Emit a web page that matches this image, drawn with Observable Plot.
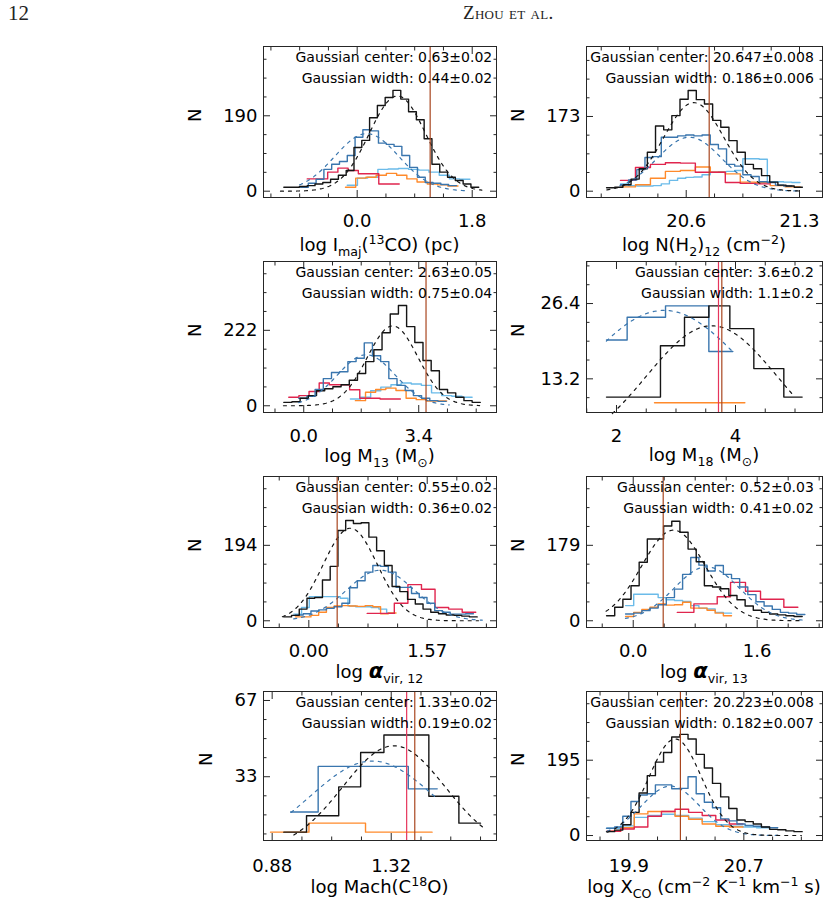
<!DOCTYPE html>
<html>
<head>
<meta charset="utf-8">
<script src="https://cdn.jsdelivr.net/npm/d3@7"></script>
<script src="https://cdn.jsdelivr.net/npm/@observablehq/plot@0.6"></script>
<style>
  body { margin: 0; background: #fff; }
  #page { position: relative; width: 840px; height: 906px; overflow: hidden; font-family: "DejaVu Sans", sans-serif; color: #000; }
  .panel { position: absolute; }
  .title { position: absolute; width: 340px; text-align: center; font: 18px/18px "DejaVu Sans", sans-serif; white-space: nowrap; }
  .title sub, .title sup { font-size: 70%; line-height: 0; }
  .title .al { font-weight: bold; font-style: italic; font-size: 21px; }
  .head { position: absolute; font-family: "Liberation Serif", "DejaVu Serif", serif; color: #222; }
</style>
</head>
<body>
<div id="page"></div>
<script>
// ---- counts per histogram (bin start, bin width, counts) ----
const imajBlack = [10,10,12,14,18,22,30,40,52,110,128,185,216,236,254,232,200,180,132,68,48,35,27,18,10];
const imajBlue  = [10,20,30,55,68,75,90,136,155,152,121,118,113,90,60,35,22,20,17,14];
const imajRed   = [31,31,48,58,52,44,44,18,18];
const imajOrange= [10,33,35,40,45,40,31,23,18,16,13];
const imajLight = [15,33,35,55,56,57,55,53,48,40,31,30];

const nh2Black  = [8,9,15,28,52,90,151,142,175,213,233,212,202,164,148,117,90,62,52,36,21,14,12,9];
const nh2Blue   = [15,26,50,78,80,125,125,128,130,128,130,108,98,62,58,38,34,22,20,14,12];
const nh2Light  = [17,13,12,12,13,17,25,30,32,33,38,44,45,46,48,75,75,74,22,22,21,20];
const nh2Red    = [25,55,62,66,65,44,44,20,18,17];
const nh2Orange = [10,15,30,46,48,56,44,40,21,20,13,10];

const m13Black  = [10,12,22,30,44,50,56,62,75,95,130,165,215,270,295,233,186,133,103,48,38,25,15,10];
const m13Blue   = [22,28,48,80,98,100,130,140,185,147,130,80,60,45,30,22,15,13];
const m13Red    = [25,30,42,67,62,62,47,22,22,20,20];
const m13Light  = [20,25,44,55,62,67,64,60,38,30,28,25];
const m13Orange = [15,40,48,52,45,22,18,14,14];

const m18BlackEdges = [1.832,2.739,3.143,3.552,3.905,4.308,4.812,5.120];
const m18Black      = [10,19,24,26,22,15,10];
const m18BlueEdges  = [1.832,2.179,2.824,3.552,3.955];
const m18Blue       = [20,24,26,18];
const m18OrangeEdges= [2.639,4.157];
const m18Orange     = [9];

const av12Black = [10,14,30,58,60,105,140,232,258,250,252,215,180,142,88,75,55,43,30,22,18,15,14,12,10];
const av12Blue  = [15,18,25,28,32,36,45,85,103,125,142,140,125,86,86,70,60,45,26,22,17,17,18];
const av12Red   = [19,19,45,93,81,34,30,22];
const av12Light = [17,34,62,62,62,62,58,38,36,36,34,30,20];
const av12Orange= [10,10,14,22,34,38,39,38,37,39,36,18,20];

const av13Black = [12,32,51,83,139,194,194,225,236,210,170,140,83,80,76,60,50,35,25,20,16,14,12,10];
const av13Blue  = [16,18,24,30,38,55,75,110,150,132,118,131,110,100,80,62,45,35,27,20,18,15];
const av13RedEdges = [0.568,0.783,1.084,1.256,1.449,1.643,1.944,2.125];
const av13Red   = [20,40,57,91,70,51,32];
const av13Light = [36,63,63,63,55,50,48,46,36,30,28,20,18];
const av13Orange= [10,20,27,32,40,37,38,44,30,30,25,18,12];

const machBlackEdges = [0.923,1.007,1.126,1.207,1.293,1.459,1.570,1.650];
const machBlack      = [8.3,15.6,28.5,43.8,51.6,24.3,12.3];
const machBlueEdges  = [0.948,1.050,1.383,1.490];
const machBlue       = [17.3,37.6,27.6];
const machOrangeEdges= [0.874,1.016,1.225,1.471];
const machOrange     = [8.3,12.3,8.3];

const xcoBlack  = [10,14,28,60,110,155,190,215,255,262,250,210,175,135,100,70,40,36,30,22,16,15,12,10];
const xcoBlue   = [19,22,50,88,105,108,131,131,121,122,152,108,86,72,43,38,30,26,24,22,20];
const xcoRed    = [11,17,22,50,62,68,60,52,40,30];
const xcoOrange = [11,20,56,62,62,50,42,30,24,22];
const xcoLight  = [19,25,47,52,55,52,45,36,28,24,22,20];

// ---- Gaussian fits: [center, width, amplitude, from, to] ----
const imajFit = [0.63, 0.44, 240, -1.2, 1.95],   imajFitBlue = [0.15, 0.5, 145, -0.9, 1.75];
const nh2Fit  = [20.647, 0.186, 205, 20.11, 21.3], nh2FitBlue = [20.62, 0.2, 125, 20.19, 21.3];
const m13Fit  = [2.63, 0.75, 235, -0.6, 5.2],     m13FitBlue = [1.85, 0.85, 150, -0.15, 4.3];
const m18Fit  = [3.6, 1.1, 22.5, 1.93, 4.95],     m18FitBlue = [2.8, 1.4, 25.2, 1.83, 3.96];
const av12Fit = [0.55, 0.36, 238, -0.35, 2.25],   av12FitBlue = [0.95, 0.45, 130, -0.2, 2.3];
const av13Fit = [0.52, 0.41, 215, -0.35, 2.2],    av13FitBlue = [0.95, 0.42, 128, -0.1, 2.2];
const machFit = [1.33, 0.19, 46.8, 0.96, 1.66],   machFitBlue = [1.25, 0.23, 40, 0.95, 1.49];
const xcoFit  = [20.223, 0.182, 250, 19.75, 21.1], xcoFitBlue = [20.19, 0.2, 128, 19.75, 20.95];

// ---- fit annotations ----
const imajText = ["Gaussian center: 0.63±0.02", "Gaussian width: 0.44±0.02"];
const nh2Text  = ["Gaussian center: 20.647±0.008", "Gaussian width: 0.186±0.006"];
const m13Text  = ["Gaussian center: 2.63±0.05", "Gaussian width: 0.75±0.04"];
const m18Text  = ["Gaussian center: 3.6±0.2", "Gaussian width: 1.1±0.2"];
const av12Text = ["Gaussian center: 0.55±0.02", "Gaussian width: 0.36±0.02"];
const av13Text = ["Gaussian center: 0.52±0.03", "Gaussian width: 0.41±0.02"];
const machText = ["Gaussian center: 1.33±0.02", "Gaussian width: 0.19±0.02"];
const xcoText  = ["Gaussian center: 20.223±0.008", "Gaussian width: 0.182±0.007"];

// ---- labelled ticks ----
const imajXTicks = [0, 1.8],     imajYTicks = [0, 190];
const nh2XTicks  = [20.6, 21.3], nh2YTicks  = [0, 173];
const m13XTicks  = [0, 3.4],     m13YTicks  = [0, 222];
const m18XTicks  = [2, 4],       m18YTicks  = [13.2, 26.4];
const av12XTicks = [0, 1.57],    av12YTicks = [0, 194];
const av13XTicks = [0, 1.6],     av13YTicks = [0, 179];
const machXTicks = [0.88, 1.32], machYTicks = [33, 67];
const xcoXTicks  = [19.9, 20.7], xcoYTicks  = [0, 195];

const BLACK = "#151515", BLUE = "#3a76ae", LIGHT = "#6bbbe9", RED = "#e0254e",
      ORANGE = "#ff8a2b", RUST = "#a8461f", PINK = "#e6355c";

const panels = [
  { col: 0, row: 0, xDomain: [-1.466, 2.18], yDomain: [-15.9, 364.6], xTicks: imajXTicks, yTicks: imajYTicks, xFmt: ".1f", yFmt: "d", nOff: 68,
    hists: [ {x0: -0.156, w: 0.16, n: imajLight, c: LIGHT}, {x0: -0.183, w: 0.16, n: imajOrange, c: ORANGE},
             {x0: -0.782, w: 0.16, n: imajRed, c: RED}, {x0: -0.887, w: 0.122, n: imajBlue, c: BLUE},
             {x0: -1.148, w: 0.122, n: imajBlack, c: BLACK} ],
    fits: [ {p: imajFitBlue, c: BLUE}, {p: imajFit, c: BLACK} ], vlines: [ {x: 1.142, c: RUST} ], text: imajText,
    title: 'log I<sub>maj</sub>(<sup>13</sup>CO) (pc)', titleBase: 250.7 },
  { col: 1, row: 0, xDomain: [19.984, 21.442], yDomain: [-14.6, 335], xTicks: nh2XTicks, yTicks: nh2YTicks, xFmt: ".1f", yFmt: "d", nOff: 68,
    hists: [ {x0: 20.194, w: 0.0504, n: nh2Light, c: LIGHT}, {x0: 20.194, w: 0.0925, n: nh2Orange, c: ORANGE},
             {x0: 20.194, w: 0.0925, n: nh2Red, c: RED}, {x0: 20.194, w: 0.0504, n: nh2Blue, c: BLUE},
             {x0: 20.108, w: 0.0504, n: nh2Black, c: BLACK} ],
    fits: [ {p: nh2FitBlue, c: BLUE}, {p: nh2Fit, c: BLACK} ], vlines: [ {x: 20.742, c: RUST} ], text: nh2Text,
    title: 'log N(H<sub>2</sub>)<sub>12</sub> (cm<sup>−2</sup>)', titleBase: 250.7 },
  { col: 0, row: 1, xDomain: [-1.19, 5.70], yDomain: [-19.8, 424.5], xTicks: m13XTicks, yTicks: m13YTicks, xFmt: ".1f", yFmt: "d", nOff: 68,
    hists: [ {x0: 1.379, w: 0.3, n: m13Light, c: LIGHT}, {x0: 1.527, w: 0.3, n: m13Orange, c: ORANGE},
             {x0: -0.443, w: 0.3, n: m13Red, c: RED}, {x0: -0.148, w: 0.2422, n: m13Blue, c: BLUE},
             {x0: -0.591, w: 0.2422, n: m13Black, c: BLACK} ],
    fits: [ {p: m13FitBlue, c: BLUE}, {p: m13Fit, c: BLACK} ], vlines: [ {x: 3.616, c: RUST} ], text: m13Text,
    title: 'log M<sub>13</sub> (M<sub>⊙</sub>)', titleBase: 461.7 },
  { col: 1, row: 1, xDomain: [1.496, 5.462], yDomain: [7.3, 33.77], xTicks: m18XTicks, yTicks: m18YTicks, xFmt: "d", yFmt: ".1f", nOff: 68,
    hists: [ {edges: m18OrangeEdges, n: m18Orange, c: ORANGE}, {edges: m18BlueEdges, n: m18Blue, c: BLUE},
             {edges: m18BlackEdges, n: m18Black, c: BLACK} ],
    fits: [ {p: m18FitBlue, c: BLUE}, {p: m18Fit, c: BLACK} ], vlines: [ {x: 3.714, c: PINK}, {x: 3.770, c: RUST} ], text: m18Text,
    title: 'log M<sub>18</sub> (M<sub>⊙</sub>)', titleBase: 461.2 },
  { col: 0, row: 2, xDomain: [-0.601, 2.489], yDomain: [-17.3, 371], xTicks: av12XTicks, yTicks: av12YTicks, xFmt: ".2f", yFmt: "d", nOff: 68,
    hists: [ {x0: -0.199, w: 0.1026, n: av12Light, c: LIGHT}, {x0: -0.177, w: 0.1026, n: av12Orange, c: ORANGE},
             {x0: 0.774, w: 0.18, n: av12Red, c: RED}, {x0: -0.177, w: 0.1026, n: av12Blue, c: BLUE},
             {x0: -0.332, w: 0.1026, n: av12Black, c: BLACK} ],
    fits: [ {p: av12FitBlue, c: BLUE}, {p: av12Fit, c: BLACK} ], vlines: [ {x: 0.376, c: RUST} ], text: av12Text,
    title: 'log <span class="al">α</span><sub>vir, 12</sub>', titleBase: 676.7 },
  { col: 1, row: 2, xDomain: [-0.603, 2.443], yDomain: [-16, 342.3], xTicks: av13XTicks, yTicks: av13YTicks, xFmt: ".1f", yFmt: "d", nOff: 68,
    hists: [ {x0: -0.099, w: 0.1052, n: av13Light, c: LIGHT}, {x0: -0.099, w: 0.1052, n: av13Orange, c: ORANGE},
             {edges: av13RedEdges, n: av13Red, c: RED}, {x0: -0.099, w: 0.1052, n: av13Blue, c: BLUE},
             {x0: -0.344, w: 0.1052, n: av13Black, c: BLACK} ],
    fits: [ {p: av13FitBlue, c: BLUE}, {p: av13Fit, c: BLACK} ], vlines: [ {x: 0.387, c: RUST} ], text: av13Text,
    title: 'log <span class="al">α</span><sub>vir, 13</sub>', titleBase: 677 },
  { col: 0, row: 3, xDomain: [0.848, 1.709], yDomain: [4.57, 71.0], xTicks: machXTicks, yTicks: machYTicks, xFmt: ".2f", yFmt: "d", nOff: 57,
    hists: [ {edges: machOrangeEdges, n: machOrange, c: ORANGE}, {edges: machBlueEdges, n: machBlue, c: BLUE},
             {edges: machBlackEdges, n: machBlack, c: BLACK} ],
    fits: [ {p: machFitBlue, c: BLUE}, {p: machFit, c: BLACK} ], vlines: [ {x: 1.377, c: PINK}, {x: 1.407, c: RUST} ], text: machText,
    title: 'log Mach(C<sup>18</sup>O)', titleBase: 893.3 },
  { col: 1, row: 3, xDomain: [19.606, 21.247], yDomain: [-12.9, 372.9], xTicks: xcoXTicks, yTicks: xcoYTicks, xFmt: ".1f", yFmt: "d", nOff: 68,
    hists: [ {x0: 19.749, w: 0.0945, n: xcoLight, c: LIGHT}, {x0: 19.749, w: 0.0945, n: xcoOrange, c: ORANGE},
             {x0: 19.749, w: 0.0945, n: xcoRed, c: RED}, {x0: 19.745, w: 0.0567, n: xcoBlue, c: BLUE},
             {x0: 19.745, w: 0.0567, n: xcoBlack, c: BLACK} ],
    fits: [ {p: xcoFitBlue, c: BLUE}, {p: xcoFit, c: BLACK} ], vlines: [ {x: 20.259, c: RUST} ], text: xcoText,
    title: 'log X<sub>CO</sub> (cm<sup>−2</sup> K<sup>−1</sup> km<sup>−1</sup> s)', titleBase: 893.3 }
];

// frame geometry of the 2 x 4 grid
const COL_X = [263, 586], COL_W = [233, 236];
const ROW_Y = [46, 261, 476, 691], ROW_H = [151, 151, 151, 149];

// step outline of a histogram: one point per bin start plus the closing edge
function binPoints(h) {
  const edges = h.edges || h.n.map((_, i) => h.x0 + i * h.w).concat([h.x0 + h.n.length * h.w]);
  const pts = h.n.map((c, i) => ({x: edges[i], y: c}));
  pts.push({x: edges[h.n.length], y: h.n[h.n.length - 1]});
  return pts;
}

// Gaussian fit curve from its stated parameters
function fitPoints([c, w, a, from, to]) {
  return d3.range(121).map(i => {
    const x = from + (to - from) * i / 120;
    return {x, y: a * Math.exp(-((x - c) ** 2) / (2 * w * w))};
  });
}

// minor tick positions: quarters of the labelled interval across the domain
function minorTicks([a, b], [lo, hi]) {
  const s = (b - a) / 4;
  return d3.range(Math.ceil((lo - a) / s - 1e-9), Math.floor((hi - a) / s + 1e-9) + 1)
    .map(k => a + k * s)
    .filter(v => Math.abs(v - a) > 1e-9 && Math.abs(v - b) > 1e-9);
}

const page = document.getElementById("page");

for (const p of panels) {
  const mL = 80, mT = 8, mB = 30, mR = p.col ? 18 : 20;
  const fw = COL_W[p.col], fh = ROW_H[p.row];
  const W = mL + fw + mR, H = mT + fh + mB;
  const xMinor = minorTicks(p.xTicks, p.xDomain);
  const yMinor = minorTicks(p.yTicks, p.yDomain);

  const marks = [];
  for (const h of p.hists)
    marks.push(Plot.line(binPoints(h), {x: "x", y: "y", curve: "step-after", stroke: h.c, strokeWidth: 1.4}));
  for (const f of p.fits)
    marks.push(Plot.line(fitPoints(f.p), {x: "x", y: "y", stroke: f.c, strokeWidth: 1.2, strokeDasharray: "3,5"}));
  for (const v of p.vlines)
    marks.push(Plot.ruleX([v.x], {stroke: v.c, strokeWidth: 1.2}));

  marks.push(Plot.frame({stroke: "#262626", strokeWidth: 1}));

  // inward tick marks on all four sides
  for (const anchor of ["bottom", "top"]) {
    marks.push(Plot.axisX({anchor, ticks: p.xTicks, tickSize: -7, tickFormat: () => "", label: null, stroke: "#262626"}));
    marks.push(Plot.axisX({anchor, ticks: xMinor, tickSize: -3.5, tickFormat: () => "", label: null, stroke: "#262626"}));
  }
  for (const anchor of ["left", "right"]) {
    marks.push(Plot.axisY({anchor, ticks: p.yTicks, tickSize: -7, tickFormat: () => "", label: null, stroke: "#262626"}));
    marks.push(Plot.axisY({anchor, ticks: yMinor, tickSize: -3.5, tickFormat: () => "", label: null, stroke: "#262626"}));
  }

  // tick labels
  marks.push(Plot.axisX({anchor: "bottom", ticks: p.xTicks, tickSize: 0, tickPadding: p.row === 3 ? 18.5 : 16.5,
                         tickFormat: d3.format(p.xFmt), label: null, fontSize: 18}));
  marks.push(Plot.axisY({anchor: "left", ticks: p.yTicks, tickSize: 0, tickPadding: 6,
                         tickFormat: d3.format(p.yFmt), label: null, fontSize: 18}));
  marks.push(Plot.text(["N"], {text: d => d, frameAnchor: "left", dx: -p.nOff, rotate: -90, fontSize: 18}));

  // fit annotation
  const tdx = p.col ? -8.7 : -4.3;
  marks.push(Plot.text([p.text[0]], {text: d => d, frameAnchor: "top-right", textAnchor: "end", lineAnchor: "bottom", dx: tdx, dy: 15.7, fontSize: 14}));
  marks.push(Plot.text([p.text[1]], {text: d => d, frameAnchor: "top-right", textAnchor: "end", lineAnchor: "bottom", dx: tdx, dy: 36.7, fontSize: 14}));

  const chart = Plot.plot({
    width: W, height: H,
    marginLeft: mL, marginRight: mR, marginTop: mT, marginBottom: mB,
    x: {domain: p.xDomain, label: null},
    y: {domain: p.yDomain, label: null},
    style: {fontFamily: "DejaVu Sans, sans-serif", fontSize: "18px", color: "#000", background: "transparent", overflow: "visible"},
    marks
  });

  const box = document.createElement("div");
  box.className = "panel";
  box.style.left = (COL_X[p.col] - mL) + "px";
  box.style.top = (ROW_Y[p.row] - mT) + "px";
  box.appendChild(chart);
  page.appendChild(box);

  const t = document.createElement("div");
  t.className = "title";
  t.innerHTML = p.title;
  t.style.left = (COL_X[p.col] + fw / 2 - 170) + "px";
  t.style.top = (p.titleBase - 15.2) + "px";
  page.appendChild(t);
}

// running head
const num = document.createElement("div");
num.className = "head";
num.style.cssText = "left:8px;top:1px;font-size:21px;";
num.textContent = "12";
page.appendChild(num);
const head = document.createElement("div");
head.className = "head";
head.style.cssText = "left:463px;top:2px;font-size:19px;font-variant:small-caps;letter-spacing:0.3px;";
head.textContent = "Zhou et al.";
page.appendChild(head);
</script>
</body>
</html>
